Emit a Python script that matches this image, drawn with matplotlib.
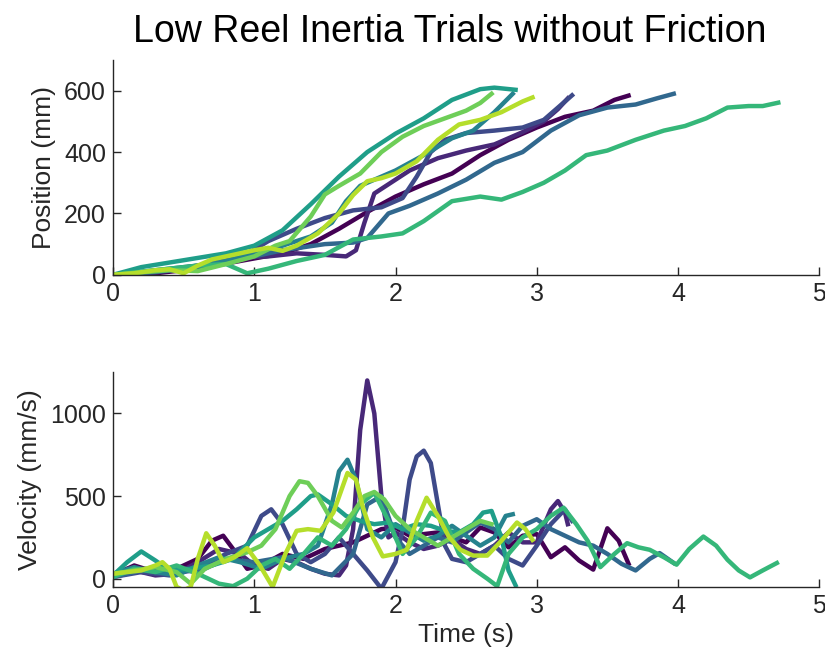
import numpy as np
import matplotlib.pyplot as plt

plt.rcParams["font.family"] = ["Liberation Sans", "DejaVu Sans"]

colors = ["#440154", "#482878", "#3e4a89", "#31688e", "#26828e",
          "#1f9e89", "#35b779", "#6ece58", "#b5de2b"]

# position traces (time s, position mm)
pos_t0 = [0, 0.3, 0.6, 0.9, 1.2, 1.4, 1.6, 1.8, 2.0, 2.2, 2.4, 2.6, 2.8, 3.0, 3.2, 3.4, 3.55, 3.65]
pos_y0 = [0, 5, 20, 45, 70, 100, 150, 205, 255, 295, 330, 390, 440, 480, 515, 535, 570, 584]
pos_t1 = [0, 0.3, 0.6, 0.9, 1.1, 1.3, 1.5, 1.65, 1.72, 1.78, 1.85, 1.95, 2.1, 2.3, 2.5, 2.7, 2.9, 3.05, 3.15, 3.22]
pos_y1 = [0, 10, 30, 55, 60, 70, 65, 60, 80, 170, 265, 295, 340, 380, 405, 425, 465, 500, 540, 575]
pos_t2 = [0, 0.3, 0.6, 0.9, 1.1, 1.3, 1.5, 1.7, 1.9, 2.05, 2.15, 2.25, 2.35, 2.5, 2.7, 2.9, 3.05, 3.15, 3.25]
pos_y2 = [0, 8, 25, 55, 110, 150, 185, 210, 220, 250, 320, 400, 440, 462, 470, 480, 505, 545, 585]
pos_t3 = [0, 0.3, 0.6, 0.9, 1.2, 1.5, 1.7, 1.8, 1.95, 2.1, 2.3, 2.5, 2.7, 2.9, 3.1, 3.3, 3.5, 3.7, 3.85, 3.97]
pos_y3 = [0, 10, 25, 50, 80, 100, 105, 120, 200, 225, 265, 310, 365, 400, 470, 520, 545, 555, 575, 590]
pos_t4 = [0, 0.2, 0.4, 0.6, 0.8, 1.0, 1.2, 1.4, 1.55, 1.65, 1.75, 1.85, 2.0, 2.2, 2.4, 2.55, 2.7, 2.83]
pos_y4 = [0, 10, 20, 30, 45, 70, 95, 125, 170, 240, 290, 310, 340, 390, 445, 470, 530, 590]
pos_t5 = [0, 0.2, 0.4, 0.6, 0.8, 1.0, 1.2, 1.4, 1.6, 1.8, 2.0, 2.2, 2.4, 2.6, 2.7, 2.85]
pos_y5 = [0, 25, 40, 55, 70, 95, 145, 230, 320, 400, 460, 510, 570, 605, 610, 603]
pos_t6 = [0, 0.2, 0.4, 0.6, 0.8, 0.95, 1.1, 1.3, 1.5, 1.7, 1.9, 2.05, 2.2, 2.4, 2.6, 2.75, 2.9, 3.05,
          3.2, 3.35, 3.5, 3.7, 3.9, 4.05, 4.2, 4.35, 4.5, 4.6, 4.71]
pos_y6 = [0, 10, 20, 30, 35, 5, 20, 45, 65, 115, 125, 135, 175, 240, 255, 245, 270, 300,
          340, 390, 405, 440, 470, 485, 510, 545, 550, 550, 561]
pos_t7 = [0, 0.2, 0.4, 0.6, 0.8, 1.0, 1.15, 1.25, 1.4, 1.5, 1.6, 1.75, 1.9, 2.05, 2.2, 2.35, 2.5, 2.6, 2.68]
pos_y7 = [0, 8, 15, 12, 35, 60, 95, 110, 190, 262, 290, 330, 400, 450, 485, 510, 535, 560, 590]
pos_t8 = [0, 0.15, 0.3, 0.4, 0.5, 0.6, 0.7, 0.85, 1.0, 1.1, 1.2, 1.3, 1.45, 1.6, 1.7, 1.8, 1.9, 2.0,
          2.15, 2.3, 2.45, 2.6, 2.75, 2.9, 2.97]
pos_y8 = [0, 5, 15, 18, 5, 30, 50, 65, 80, 88, 78, 95, 135, 200, 260, 305, 315, 330,
          370, 440, 490, 505, 530, 565, 578]

# velocity traces (time s, velocity mm/s)
vel_t0 = [0, 0.15, 0.3, 0.45, 0.6, 0.7, 0.78, 0.85, 0.95, 1.05, 1.2, 1.35, 1.5, 1.6, 1.7, 1.8, 1.9, 2.0,
          2.1, 2.2, 2.3, 2.4, 2.5, 2.6, 2.7, 2.8, 2.9, 3.0, 3.1, 3.2, 3.3, 3.4, 3.5, 3.58, 3.65]
vel_y0 = [20, 80, 40, 60, 120, 230, 260, 180, 60, 80, 150, 120, 180, 200, 220, 260, 300, 310,
          260, 270, 280, 250, 220, 310, 280, 190, 260, 270, 130, 190, 110, 55, 305, 230, 90]
vel_t1 = [0, 0.1, 0.2, 0.3, 0.45, 0.6, 0.75, 0.9, 1.0, 1.1, 1.2, 1.3, 1.4, 1.5, 1.6, 1.65, 1.7, 1.75,
          1.8, 1.85, 1.9, 1.95, 2.0, 2.1, 2.2, 2.3, 2.4, 2.5, 2.6, 2.7, 2.8, 2.9, 3.0, 3.1, 3.15, 3.2, 3.22]
vel_y1 = [20, 60, 40, 20, 30, 100, 180, 150, 80, 60, 120, 100, 60, 30, 20, 80, 300, 900,
          1200, 1000, 500, 250, 280, 220, 180, 200, 240, 180, 150, 200, 280, 220, 220, 420, 470, 400, 330]
vel_t2 = [0, 0.2, 0.4, 0.6, 0.8, 0.95, 1.05, 1.12, 1.2, 1.3, 1.4, 1.5, 1.6, 1.7, 1.8, 1.9, 2.0, 2.05,
          2.1, 2.15, 2.2, 2.25, 2.3, 2.35, 2.4, 2.5, 2.6, 2.7, 2.8, 2.9, 3.0, 3.1, 3.2, 3.25]
vel_y2 = [10, 40, 20, 60, 150, 200, 380, 420, 330, 150, 100, 150, 250, 150, 50, -60, 100, 300,
          600, 740, 775, 700, 450, 200, 120, 100, 150, 200, 120, 80, 200, 330, 420, 350]
vel_t3 = [0, 0.2, 0.4, 0.6, 0.8, 1.0, 1.2, 1.4, 1.55, 1.7, 1.8, 1.9, 2.0, 2.1, 2.2, 2.3, 2.4, 2.5,
          2.6, 2.7, 2.8, 2.9, 3.0, 3.1, 3.2, 3.3, 3.4, 3.5, 3.6, 3.7, 3.8, 3.87, 3.97]
vel_y3 = [10, 50, 60, 40, 120, 100, 130, 60, 20, 150, 450, 500, 250, 150, 200, 250, 220, 280,
          340, 300, 220, 320, 360, 300, 260, 220, 200, 150, 90, 50, 120, 155, 95]
vel_t4 = [0, 0.15, 0.3, 0.45, 0.6, 0.75, 0.9, 1.05, 1.2, 1.35, 1.45, 1.55, 1.6, 1.66, 1.72, 1.8, 1.9,
          2.0, 2.1, 2.2, 2.3, 2.4, 2.5, 2.6, 2.7, 2.78, 2.83]
vel_y4 = [30, 70, 40, 20, 80, 130, 100, 60, 120, 150, 200, 450, 650, 720, 600, 300, 250,
          330, 280, 230, 260, 320, 260, 200, 250, 380, 390]
vel_t5 = [0, 0.1, 0.2, 0.3, 0.4, 0.55, 0.7, 0.85, 1.0, 1.1, 1.2, 1.3, 1.4, 1.45, 1.55, 1.65, 1.75,
          1.85, 1.95, 2.05, 2.15, 2.25, 2.35, 2.45, 2.55, 2.62, 2.68, 2.75, 2.8, 2.85]
vel_y5 = [20, 100, 165, 110, 50, 60, 80, 120, 250, 300, 350, 420, 500, 510, 450, 380, 350,
          330, 340, 300, 330, 320, 290, 280, 330, 400, 410, 250, 50, -40]
vel_t6 = [0, 0.15, 0.3, 0.45, 0.6, 0.75, 0.85, 0.95, 1.05, 1.15, 1.25, 1.35, 1.45, 1.55, 1.65, 1.75,
          1.85, 1.95, 2.05, 2.15, 2.25, 2.35, 2.45, 2.55, 2.65, 2.72, 2.8, 2.9, 3.0, 3.1, 3.19, 3.28,
          3.36, 3.45, 3.55, 3.64, 3.72, 3.8, 3.9, 3.99, 4.08, 4.18, 4.27, 4.35, 4.43, 4.51, 4.6, 4.7]
vel_y6 = [10, 60, 40, 80, 30, -30, -45, 0, 80, 120, 60, 150, 250, 200, 300, 450,
          520, 350, 150, 250, 400, 350, 150, 60, 0, -45, 150, 250, 300, 380, 430, 330,
          230, 70, 150, 215, 190, 175, 130, 85, 180, 255, 200, 115, 50, 8, 50, 95]
vel_t7 = [0, 0.15, 0.3, 0.45, 0.55, 0.65, 0.8, 0.95, 1.05, 1.15, 1.25, 1.32, 1.38, 1.45, 1.55, 1.62,
          1.7, 1.78, 1.85, 1.92, 2.0, 2.1, 2.2, 2.3, 2.4, 2.5, 2.6, 2.68]
vel_y7 = [30, 50, 70, 40, -30, 60, 120, 160, 200, 300, 500, 590, 580, 500, 350, 310,
          400, 500, 525, 480, 380, 300, 250, 200, 250, 300, 350, 330]
vel_t8 = [0, 0.1, 0.2, 0.3, 0.35, 0.4, 0.45, 0.5, 0.55, 0.6, 0.66, 0.72, 0.78, 0.86, 0.95, 1.04,
          1.13, 1.22, 1.3, 1.38, 1.47, 1.56, 1.66, 1.72, 1.77, 1.84, 1.91, 2.0, 2.08, 2.15, 2.22,
          2.3, 2.38, 2.46, 2.55, 2.65, 2.75, 2.86, 2.92, 2.97]
vel_y8 = [30, 40, 50, 80, 100, 60, -50, -70, -50, 120, 275, 200, 100, 130, 185, 80,
          -50, 150, 290, 300, 290, 400, 640, 600, 430, 250, 135, 150, 175, 350, 490,
          380, 250, 175, 140, 140, 230, 340, 300, 235]

pos_t = [pos_t0, pos_t1, pos_t2, pos_t3, pos_t4, pos_t5, pos_t6, pos_t7, pos_t8]
pos_y = [pos_y0, pos_y1, pos_y2, pos_y3, pos_y4, pos_y5, pos_y6, pos_y7, pos_y8]
vel_t = [vel_t0, vel_t1, vel_t2, vel_t3, vel_t4, vel_t5, vel_t6, vel_t7, vel_t8]
vel_y = [vel_y0, vel_y1, vel_y2, vel_y3, vel_y4, vel_y5, vel_y6, vel_y7, vel_y8]

txt = "#262626"
fig = plt.figure(figsize=(8.25, 6.67), dpi=100)
ax1 = fig.add_axes([0.137, 0.588, 0.856, 0.322])
ax2 = fig.add_axes([0.137, 0.120, 0.856, 0.322])

for i in range(9):
    ax1.plot(pos_t[i], pos_y[i], color=colors[i], lw=3.2, solid_joinstyle="round")
    ax2.plot(vel_t[i], vel_y[i], color=colors[i], lw=3.2, solid_joinstyle="round")

ax1.set_xlim(0, 5)
ax1.set_ylim(0, 700)
ax1.set_yticks([0, 200, 400, 600])
ax2.set_xlim(0, 5)
ax2.set_ylim(-50, 1250)
ax2.set_yticks([0, 500, 1000])

for ax in (ax1, ax2):
    ax.set_xticks([0, 1, 2, 3, 4, 5])
    ax.spines["top"].set_visible(False)
    ax.spines["right"].set_visible(False)
    for s in ("left", "bottom"):
        ax.spines[s].set_color(txt)
        ax.spines[s].set_linewidth(1)
    ax.tick_params(direction="in", length=6, width=1, colors=txt, labelsize=18, pad=5)

ax1.set_ylabel("Position (mm)", fontsize=19, color=txt, labelpad=6)
ax2.set_ylabel("Velocity (mm/s)", fontsize=19, color=txt, labelpad=6)
ax2.set_xlabel("Time (s)", fontsize=19, color=txt, labelpad=4)
fig.text(0.545, 0.952, "Low Reel Inertia Trials without Friction", ha="center", va="center",
         fontsize=27, color="black")

plt.savefig("out.png", dpi=100)
